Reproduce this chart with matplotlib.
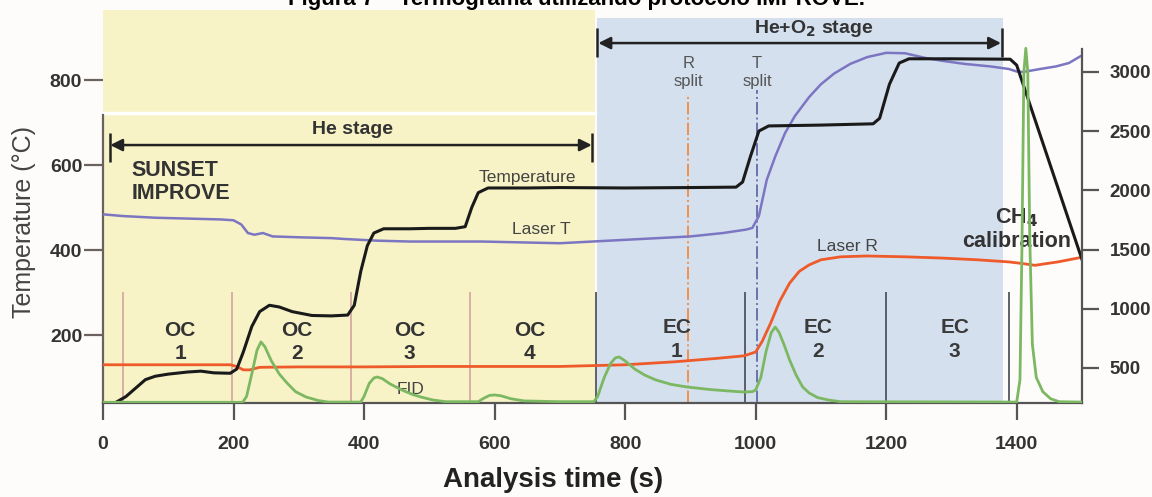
import matplotlib
matplotlib.use("Agg")
import matplotlib.pyplot as plt
from matplotlib.patches import Rectangle

plt.rcParams['font.family'] = ['Liberation Sans', 'DejaVu Sans']

# ---------------- data ----------------
# oven temperature (black), degC
temp_time = [18, 35, 50, 65, 80, 100, 130, 150, 170, 195, 205, 215, 228, 240, 255, 270, 290, 320, 350, 375,
             385, 395, 405, 415, 430, 470, 500, 540, 555, 565, 575, 590, 650, 700, 800, 900, 970,
             980, 992, 1005, 1020, 1100, 1180, 1190, 1205, 1220, 1235, 1300, 1390, 1400, 1500]
temp_val = [40, 55, 75, 95, 103, 108, 113, 115, 111, 110, 120, 160, 220, 255, 270, 266, 255, 246, 245, 247,
            270, 350, 410, 440, 450, 450, 451, 451, 455, 500, 535, 546, 546, 547, 546, 547, 548,
            560, 620, 680, 692, 694, 697, 710, 790, 840, 850, 850, 849, 835, 378]

# laser transmittance (purple)
lasert_time = [0, 30, 80, 130, 180, 200, 212, 222, 232, 245, 260, 300, 350, 370, 420, 470, 520, 580, 640, 700,
               750, 800, 850, 900, 950, 985, 995, 1005, 1017, 1030, 1045, 1060, 1082, 1100, 1120, 1145,
               1171, 1200, 1229, 1260, 1287, 1320, 1360, 1388, 1400, 1410, 1436, 1460, 1480, 1500]
lasert_val = [484, 480, 476, 474, 472, 470, 460, 440, 436, 440, 432, 430, 428, 426, 422, 420, 420, 420, 418, 416,
              420, 424, 428, 432, 440, 448, 452, 480, 565, 620, 675, 715, 760, 790, 815, 838,
              854, 864, 863, 852, 845, 838, 832, 826, 820, 819, 826, 832, 840, 858]

# laser reflectance (orange)
laserr_time = [0, 100, 195, 205, 215, 225, 240, 300, 400, 500, 600, 700, 800, 876, 940, 982, 1000, 1010,
               1023, 1037, 1052, 1067, 1082, 1100, 1130, 1170, 1230, 1287, 1340, 1388, 1410, 1428, 1445,
               1463, 1500]
laserr_val = [130, 130, 130, 126, 118, 118, 124, 125, 125, 126, 126, 126, 130, 137, 145, 151, 160, 185,
              228, 280, 322, 350, 365, 377, 384, 386, 384, 381, 377, 372, 368, 364, 368,
              372, 383]

# FID signal (green), right axis
fid_time = [0, 214, 220, 228, 236, 242, 248, 258, 270, 282, 295, 311, 330, 345, 395, 400, 408, 415, 420, 428,
            440, 458, 475, 487, 505, 525, 575, 582, 592, 600, 610, 625, 645, 700, 752, 758, 768, 778, 785,
            791, 800, 815, 830, 847, 870, 894, 930, 960, 982, 995, 1000, 1008, 1016, 1024, 1030, 1036,
            1044, 1052, 1062, 1072, 1082, 1095, 1111, 1130, 1400, 1405, 1408, 1411, 1414, 1417, 1420,
            1424, 1430, 1440, 1452, 1465, 1500]
fid_val = [210, 210, 260, 450, 650, 720, 680, 560, 450, 373, 300, 255, 225, 212, 212, 260, 370, 415, 424, 410,
           365, 314, 275, 255, 230, 215, 215, 240, 268, 272, 265, 240, 222, 215, 215, 260, 420, 540, 585,
           593, 560, 490, 440, 399, 362, 340, 318, 305, 297, 300, 314, 420, 640, 800, 846, 800,
           690, 568, 440, 340, 289, 250, 230, 215, 212, 400, 1500, 3000, 3200, 3000, 1600,
           700, 420, 300, 240, 215, 212]

oc_bounds = [31, 198, 380, 563]
ec_bounds = [755, 984, 1200, 1388]
oc_labels = ["OC\n1", "OC\n2", "OC\n3", "OC\n4"]
oc_pos = [118, 297, 470, 654]
ec_labels = ["EC\n1", "EC\n2", "EC\n3"]
ec_pos = [879, 1095, 1305]
r_split = 897
t_split = 1002
he_stage = (0, 754)
heo2_stage = (757, 1379)

# ---------------- figure ----------------
fig = plt.figure(figsize=(11.52, 4.97), dpi=100, facecolor='#fdfcfa')
ax = fig.add_axes([0.0894, 0.1891, 0.8498, 0.7747])
ax.set_facecolor('#fdfcfa')
ax.set_xlim(0, 1500)
ax.set_ylim(40, 946)

yellow = '#f7f3c6'
blue = '#d4e0ee'
ax.axvspan(he_stage[0], he_stage[1], color=yellow, zorder=0, lw=0)
ax.axvspan(heo2_stage[0], heo2_stage[1], color=blue, zorder=0, lw=0)
# pasted strip above the axes on the left
fig.patches.append(Rectangle((103 / 1152, 0.9638), (595 - 103) / 1152, 8 / 497,
                             transform=fig.transFigure, color=yellow, lw=0))
ax.plot([0, 754], [722, 722], color='white', lw=2.5, zorder=1)

dark = '#222222'
txt = '#333333'

# stage dividers
ax.vlines(oc_bounds, 40, 301, color='#d6a9a2', lw=1.3, zorder=2)
ax.vlines(ec_bounds, 40, 301, color='#505560', lw=1.3, zorder=2)
ax.vlines([r_split], 40, 765, color='#f0904e', lw=1.4, linestyles='-.', zorder=2)
ax.vlines([t_split], 40, 776, color='#6a74ac', lw=1.4, linestyles='-.', zorder=2)

# curves
ax.plot(lasert_time, lasert_val, color='#7c76c2', lw=1.8, zorder=3)
ax.plot(laserr_time, laserr_val, color='#ee5a2a', lw=2.0, zorder=3)
ax.plot(temp_time, temp_val, color='#1a1a1a', lw=2.2, zorder=4)

ax2 = ax.twinx()
ax2.set_ylim(204, 3456)
ax2.plot(fid_time, fid_val, color='#7cb862', lw=2.0, zorder=3)

# stage arrows
ax.annotate('', xy=(749, 647), xytext=(11, 647),
            arrowprops=dict(arrowstyle='<|-|>', color=dark, lw=1.8, mutation_scale=18, shrinkA=0, shrinkB=0))
ax.vlines([11, 749], 607, 675, color=dark, lw=1.8)
ax.annotate('', xy=(1376, 887), xytext=(759, 887),
            arrowprops=dict(arrowstyle='<|-|>', color=dark, lw=1.8, mutation_scale=18, shrinkA=0, shrinkB=0))
ax.vlines([757, 1378], 854, 922, color=dark, lw=1.8)
ax.text(382, 684, "He stage", ha='center', va='center', fontsize=14, fontweight='bold', color=txt)
ax.text(1089, 922, "He+O$_\\mathbf{2}$ stage", ha='center', va='center', fontsize=14, fontweight='bold', color=txt)

# annotations
ax.text(44, 560, "SUNSET\nIMPROVE", ha='left', va='center', fontsize=15.5, fontweight='bold',
        color=txt, linespacing=1.15)
ax.text(650, 570, "Temperature", ha='center', va='center', fontsize=12.5, color='#444444')
ax.text(672, 449, "Laser T", ha='center', va='center', fontsize=12.5, color='#444444')
ax.text(1141, 409, "Laser R", ha='center', va='center', fontsize=12.5, color='#444444')
ax.text(472, 71, "FID", ha='center', va='center', fontsize=12.5, color='#444444')
ax.text(r_split, 818, "R\nsplit", ha='center', va='center', fontsize=12, color='#555555', linespacing=1.2)
ax.text(t_split, 818, "T\nsplit", ha='center', va='center', fontsize=12, color='#555555', linespacing=1.2)
ax.text(1400, 449, "CH$_\\mathbf{4}$\ncalibration", ha='center', va='center', fontsize=15.5,
        fontweight='bold', color=txt, linespacing=1.1)
for lab, x in zip(oc_labels, oc_pos):
    ax.text(x, 184, lab, ha='center', va='center', fontsize=15, fontweight='bold', color=txt, linespacing=1.3)
for lab, x in zip(ec_labels, ec_pos):
    ax.text(x, 190, lab, ha='center', va='center', fontsize=15, fontweight='bold', color='#3a3a3a', linespacing=1.3)

# axes styling
for a in (ax, ax2):
    a.spines['top'].set_visible(False)
ax.spines['right'].set_visible(False)
ax2.spines['left'].set_visible(False)
ax2.spines['bottom'].set_visible(False)
ax.spines['left'].set_bounds(40, 717)
ax.spines['left'].set_color('#6b625e')
ax.spines['left'].set_linewidth(1.6)
ax.spines['bottom'].set_color('#555555')
ax.spines['bottom'].set_linewidth(1.6)
ax2.spines['right'].set_bounds(204, 3195)
ax2.spines['right'].set_color('#555555')
ax2.spines['right'].set_linewidth(1.6)

ax.set_xticks([0, 200, 400, 600, 800, 1000, 1200, 1400])
ax.set_yticks([200, 400, 600, 800])
ax2.set_yticks([500, 1000, 1500, 2000, 2500, 3000])
ax.tick_params(axis='x', length=12, width=1.6, pad=12, labelsize=14, colors='#555555', labelcolor='#333333')
ax.tick_params(axis='y', length=14, width=1.6, pad=1, labelsize=14, colors='#6b625e', labelcolor='#333333')
ax2.tick_params(axis='y', length=12, width=1.6, pad=8, labelsize=13.5, colors='#555555', labelcolor='#333333')
for lab in ax.get_xticklabels() + ax.get_yticklabels() + ax2.get_yticklabels():
    lab.set_fontweight('bold')

fig.text(0.021, 0.553, "Temperature (°C)", rotation=90, ha='center', va='center', fontsize=18, color='#444444')
fig.text(0.48, 0.034, "Analysis time (s)", ha='center', va='center', fontsize=20, fontweight='bold', color='#222222')
fig.text(0.5, 0.99, "Figura 7 – Termograma utilizando protocolo IMPROVE.", ha='center', va='baseline',
         fontsize=16, fontweight='bold', color='black')

plt.savefig("out.png", dpi=100, facecolor=fig.get_facecolor())
